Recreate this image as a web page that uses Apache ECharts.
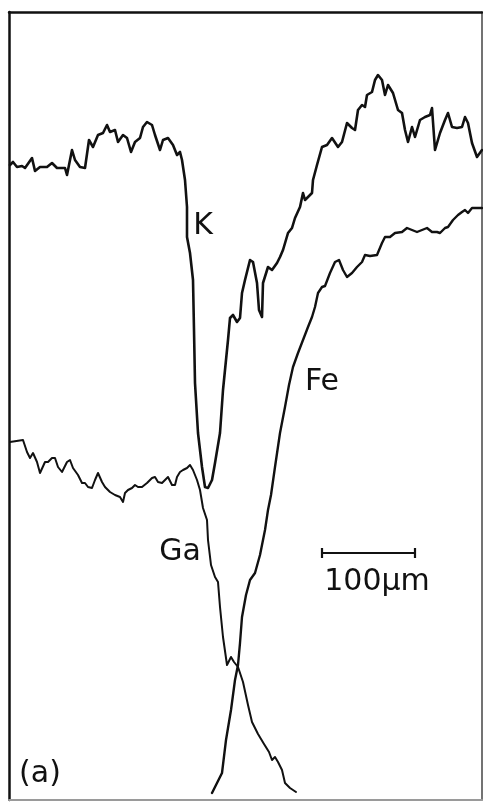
<!DOCTYPE html>
<html>
<head>
<meta charset="utf-8">
<script src="https://cdn.jsdelivr.net/npm/echarts@6/dist/echarts.min.js"></script>
<style>
  html, body { margin: 0; padding: 0; background: #fff; }
  #chart { width: 483px; height: 802px; }
</style>
</head>
<body>
<div id="chart"></div>
<script>
// line scan profiles, x = distance (arb. units), y = intensity (arb. units)
const kProfile = [
  [1,635],[4,638],[8,633],[13,634],[16,632],[23,642],[26,629],[31,633],[38,633],[43,637],
  [48,632],[56,632],[58,625],[63,650],[66,640],[71,633],[76,632],[80,660],[84,653],[89,665],
  [94,667],[98,675],[101,668],[106,670],[109,658],[114,665],[118,662],[122,648],[126,658],[131,662],
  [134,673],[138,678],[143,675],[146,665],[151,650],[154,660],[159,662],[164,655],[168,645],[171,648],
  [173,640],[176,620],[178,593],[178,563],[181,547],[184,520],[185,470],[186,417],[189,367],[193,333],
  [196,313],[199,312],[203,320],[206,337],[211,367],[214,410],[219,460],[221,482],[224,485],[228,478],
  [231,482],[233,507],[236,520],[241,540],[244,538],[248,517],[250,490],[253,483],[254,517],[259,533],
  [263,530],[268,537],[271,543],[274,550],[279,567],[283,572],[286,582],[291,593],[294,607],[296,600],
  [303,607],[304,620],[308,635],[313,653],[318,655],[323,662],[329,653],[333,658],[338,677],[343,672],
  [346,670],[349,690],[353,695],[356,693],[358,705],[363,708],[366,720],[369,725],[373,720],[376,705],
  [379,715],[384,707],[389,690],[393,687],[396,670],[399,658],[403,673],[406,663],[411,680],[416,683],
  [421,685],[423,692],[426,650],[431,667],[436,680],[439,687],[443,673],[448,672],[453,673],[456,683],
  [459,677],[463,657],[468,643],[473,650]
];

const feProfile = [
  [203,7],[213,27],[217,60],[222,90],[226,120],[229,135],[231,157],[233,183],[237,205],[241,220],
  [246,227],[251,245],[256,270],[259,290],[262,305],[266,333],[271,367],[276,393],[280,415],[284,433],
  [289,447],[294,460],[299,473],[303,483],[306,493],[309,507],[313,513],[316,514],[321,527],[326,538],
  [330,540],[334,530],[338,523],[343,527],[348,533],[353,538],[356,545],[361,544],[368,545],[373,557],
  [376,563],[381,563],[386,567],[393,568],[398,572],[403,570],[408,568],[413,570],[418,572],[423,568],
  [428,568],[431,567],[436,572],[439,573],[444,580],[449,585],[453,588],[456,590],[459,587],[463,592],
  [468,592],[473,592]
];

const gaProfile = [
  [1,358],[14,360],[18,348],[21,342],[24,347],[28,338],[31,327],[36,338],[39,338],[43,342],
  [46,342],[49,333],[53,328],[58,338],[61,340],[64,332],[69,325],[73,317],[76,317],[79,313],
  [83,312],[86,320],[89,327],[93,318],[96,313],[101,308],[106,305],[111,303],[114,298],[116,307],
  [119,310],[123,312],[126,315],[129,313],[133,313],[138,317],[143,322],[146,323],[149,318],[153,317],
  [156,320],[159,323],[163,315],[166,315],[168,323],[171,328],[174,330],[178,332],[181,335],[184,330],
  [188,320],[191,310],[194,292],[198,280],[199,260],[202,235],[206,223],[209,218],[211,193],[214,163],
  [218,135],[222,143],[225,138],[229,133],[234,118],[239,95],[243,78],[249,66],[255,56],[260,48],
  [263,40],[266,43],[269,38],[273,30],[276,17],[281,12],[287,8]
];

// 100 um scale bar
const scaleBarStart = 313;
const scaleBarEnd = 406;
const scaleBarLevel = 247;

const ink = '#111';
const chart = echarts.init(document.getElementById('chart'));

const scaleBar = [
  [scaleBarStart, scaleBarLevel + 5], [scaleBarStart, scaleBarLevel - 5], [scaleBarStart, scaleBarLevel],
  [scaleBarEnd, scaleBarLevel], [scaleBarEnd, scaleBarLevel + 5], [scaleBarEnd, scaleBarLevel - 5]
];

function profile(name, data, width) {
  return {
    name: name,
    type: 'line',
    data: data,
    showSymbol: false,
    smooth: false,
    animation: false,
    lineStyle: { color: ink, width: width, join: 'round', cap: 'round' }
  };
}

const labelFont = '30px "DejaVu Sans"';
function label(text, x, y) {
  return {
    type: 'text', x: x, y: y, z: 100,
    style: { text: text, font: labelFont, fill: ink, align: 'center', verticalAlign: 'middle',
      textAlign: 'center', textVerticalAlign: 'middle' }
  };
}

function frameAxis(pos, color, width) {
  return {
    type: 'value', position: pos,
    axisLine: { show: true, onZero: false, lineStyle: { color: color, width: width } },
    axisTick: { show: false }, axisLabel: { show: false }, splitLine: { show: false }
  };
}

chart.setOption({
  backgroundColor: '#fff',
  animation: false,
  grid: { left: 9, right: 1, top: 12, bottom: 2 },
  xAxis: [
    Object.assign(frameAxis('bottom', '#9a9a9a', 2), { min: 0, max: 473 }),
    Object.assign(frameAxis('top', ink, 2.5), { min: 0, max: 473 })
  ],
  yAxis: [
    Object.assign(frameAxis('left', ink, 2.5), { min: 0, max: 788 }),
    Object.assign(frameAxis('right', '#444', 1.5), { min: 0, max: 788 })
  ],
  series: [
    profile('K', kProfile, 2.6),
    profile('Fe', feProfile, 2.4),
    profile('Ga', gaProfile, 2),
    {
      name: 'scale', type: 'line', data: scaleBar, showSymbol: false,
      lineStyle: { color: ink, width: 2.2 }
    }
  ],
  graphic: [
    label('K', 203, 226),
    label('Fe', 322, 382),
    label('Ga', 180, 552),
    label('100μm', 377, 582),
    label('(a)', 40, 774)
  ]
});
</script>
</body>
</html>
